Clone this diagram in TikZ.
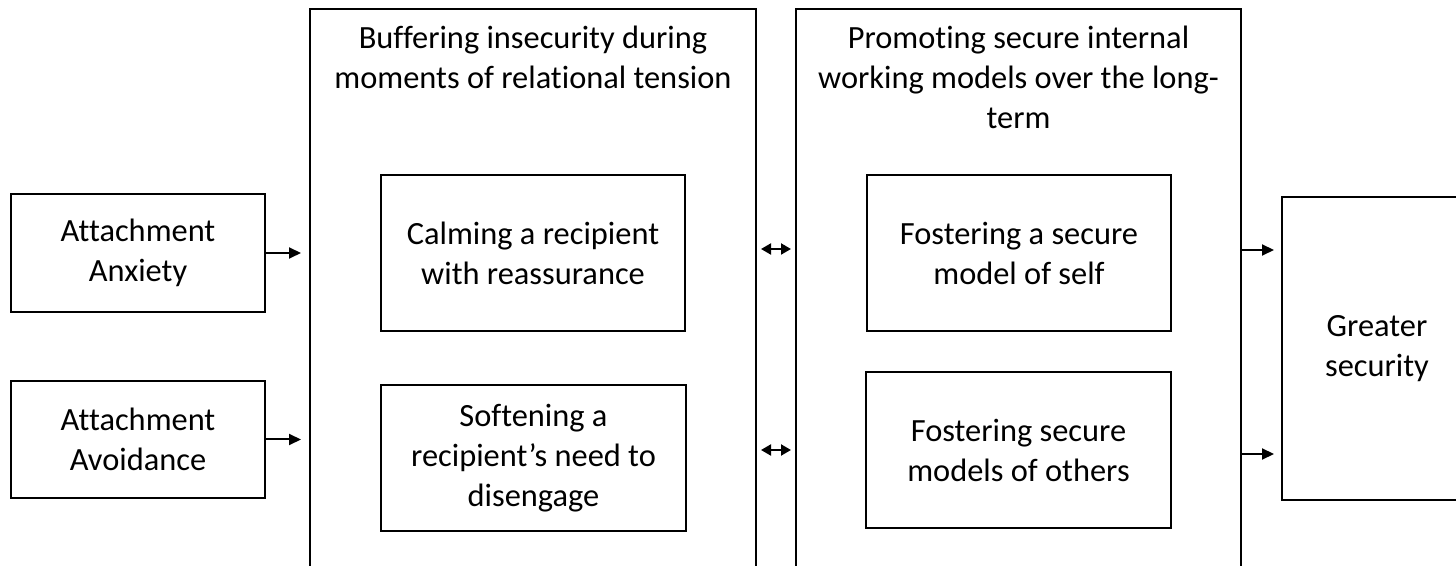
\documentclass[tikz,border=0pt]{standalone}
\usepackage{fontspec}
\setmainfont{Carlito}[Ligatures=NoCommon]
\usepackage{tikz}
\usetikzlibrary{arrows.meta}
\tikzstyle{box} = [rectangle, draw=black, line width=1pt, align=center, text centered, inner sep=0pt]
\tikzstyle{bigbox} = [rectangle, draw=black, line width=1pt, minimum width=223pt, minimum height=315.5pt, inner sep=0pt]
\tikzstyle{title} = [align=center, anchor=north, inner sep=0pt]
\tikzstyle{arrow} = [line width=1pt,-{Triangle[length=6pt,width=5.5pt]}]
\tikzstyle{biarrow} = [line width=1pt,{Triangle[length=5pt,width=5.5pt]}-{Triangle[length=5pt,width=5.5pt]}]

\begin{document}
\begin{tikzpicture}[x=0.5pt,y=-0.5pt,font=\fontsize{16.2}{20}\selectfont]
\clip (0,0) rectangle (1456,566);
\node (anxiety) [box, minimum width=127pt, minimum height=59pt] at (138,253) {Attachment\\Anxiety};
\node (avoidance) [box, minimum width=127pt, minimum height=58.5pt] at (138,439.5) {Attachment\\Avoidance};

\node (buffer) [bigbox] at (533,324.5) {};
\node (buffertitle) [title] at (533,26) {Buffering insecurity during\\moments of relational tension};
\node (calming) [box, minimum width=152pt, minimum height=78pt] at (533,253) {Calming a recipient\\with reassurance};
\node (softening) [box, minimum width=152.5pt, minimum height=73pt] at (533.5,458) {Softening a\\recipient’s need to\\disengage};

\node (promoting) [bigbox, minimum width=222.5pt] at (1018.5,324.5) {};
\node (promotingtitle) [title] at (1018.5,26) {Promoting secure internal\\working models over the long-\\term};
\node (fostself) [box, minimum width=152pt, minimum height=78pt] at (1019,253) {Fostering a secure\\model of self};
\node (fostothers) [box, minimum width=152.5pt, minimum height=78pt] at (1018.5,450) {Fostering secure\\models of others};

\node (greater) [box, minimum width=95pt, minimum height=151.5pt] at (1377,348.5) {Greater\\security};

\draw [arrow] (anxiety.east) -- ([xshift=-4pt]anxiety.east -| buffer.west);
\draw [arrow] (avoidance.east) -- ([xshift=-4pt]avoidance.east -| buffer.west);
\draw [biarrow] ([xshift=2pt,yshift=2pt]buffer.east |- calming.center) -- ([xshift=-2pt,yshift=2pt]promoting.west |- calming.center);
\draw [biarrow] ([xshift=2pt]buffer.east |- fostothers.center) -- ([xshift=-2pt]promoting.west |- fostothers.center);
\draw [arrow] ([yshift=49.25pt]greater.west -| promoting.east) -- ([xshift=-3.5pt,yshift=49.25pt]greater.west);
\draw [arrow] ([yshift=-52.75pt]greater.west -| promoting.east) -- ([xshift=-3.5pt,yshift=-52.75pt]greater.west);
\end{tikzpicture}
\end{document}
